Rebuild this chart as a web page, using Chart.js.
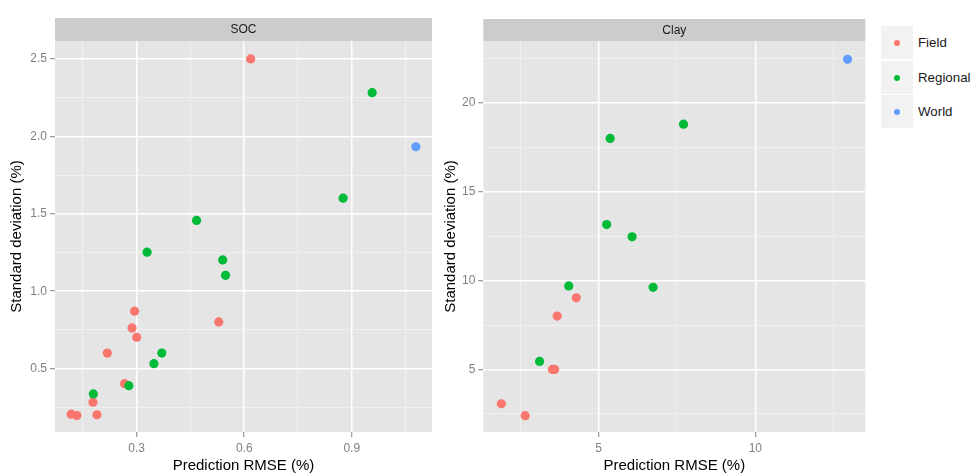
<!DOCTYPE html>
<html>
<head>
<meta charset="utf-8">
<script src="https://cdn.jsdelivr.net/npm/chart.js@4/dist/chart.umd.min.js"></script>
<style>
  html, body { margin: 0; padding: 0; background: #ffffff; }
  #wrap { position: relative; width: 973px; height: 475px; overflow: hidden;
          font-family: "Liberation Sans", Arial, sans-serif; }
  #socCanvas  { position: absolute; left: 0;     top: 0; }
  #clayCanvas { position: absolute; left: 430px; top: 0; }
  #legend { position: absolute; left: 881px; top: 26px; }
  .row { position: relative; height: 33px; margin-bottom: 1.5px; }
  .key { position: absolute; left: 0; top: 0; width: 32px; height: 33px; background: #F2F2F2; }
  .dot { position: absolute; left: 13px; top: 14px; width: 6px; height: 6px; border-radius: 50%; }
  .lab { position: absolute; left: 37px; top: 0; line-height: 33px; font-size: 13.3px; color: #1A1A1A; white-space: nowrap; }
</style>
</head>
<body>
<div id="wrap">
  <canvas id="socCanvas" width="440" height="475"></canvas>
  <canvas id="clayCanvas" width="440" height="475"></canvas>
  <div id="legend"></div>
</div>
<script>
// ---- groups ----
const groupNames  = ['Field', 'Regional', 'World'];
const groupColors = ['#F8766D', '#00BA38', '#619CFF'];

// ---- SOC panel: prediction RMSE (%) vs standard deviation (%) ----
const socFieldRmse    = [0.618, 0.294, 0.287, 0.300, 0.529, 0.218, 0.266, 0.178, 0.117, 0.133, 0.189];
const socFieldSd      = [2.500, 0.871, 0.763, 0.703, 0.802, 0.601, 0.403, 0.283, 0.206, 0.197, 0.202];
const socRegionalRmse = [0.957, 0.876, 0.467, 0.329, 0.540, 0.548, 0.370, 0.348, 0.278, 0.179];
const socRegionalSd   = [2.282, 1.601, 1.457, 1.252, 1.202, 1.103, 0.601, 0.532, 0.390, 0.337];
const socWorldRmse    = [1.079];
const socWorldSd      = [1.933];

// ---- Clay panel ----
const clayFieldRmse    = [4.29, 3.68, 3.53, 3.60, 1.90, 2.66];
const clayFieldSd      = [9.03, 8.00, 5.00, 5.00, 3.07, 2.40];
const clayRegionalRmse = [7.71, 5.37, 5.26, 6.07, 4.05, 6.74, 3.12];
const clayRegionalSd   = [18.80, 18.00, 13.15, 12.46, 9.70, 9.62, 5.45];
const clayWorldRmse    = [12.94];
const clayWorldSd      = [22.45];

// ---- ticks ----
const socXTicks        = [0.3, 0.6, 0.9];
const socXTickLabels   = ['0.3', '0.6', '0.9'];
const socXMinor        = [0.15, 0.45, 0.75, 1.05];
const socYTicks        = [0.5, 1.0, 1.5, 2.0, 2.5];
const socYTickLabels   = ['0.5', '1.0', '1.5', '2.0', '2.5'];
const socYMinor        = [0.25, 0.75, 1.25, 1.75, 2.25];

const clayXTicks       = [5, 10];
const clayXTickLabels  = ['5', '10'];
const clayXMinor       = [2.5, 7.5, 12.5];
const clayYTicks       = [5, 10, 15, 20];
const clayYTickLabels  = ['5', '10', '15', '20'];
const clayYMinor       = [2.5, 7.5, 12.5, 17.5, 22.5];

const xTitle = 'Prediction RMSE (%)';
const yTitle = 'Standard deviation (%)';
const FONT = '"Liberation Sans", Arial, sans-serif';

function toPoints(xs, ys) {
  return xs.map((x, i) => ({ x: x, y: ys[i] }));
}

// grey panel background plus facet strip above the plotting area
const panelPlugin = {
  id: 'panel',
  beforeDraw(chart, args, opts) {
    const ctx = chart.ctx, a = chart.chartArea;
    ctx.save();
    ctx.fillStyle = '#E5E5E5';
    ctx.fillRect(a.left, a.top, a.right - a.left, a.bottom - a.top);
    ctx.fillStyle = '#CCCCCC';
    ctx.fillRect(a.left, opts.stripTop, a.right - a.left, a.top - opts.stripTop);
    ctx.fillStyle = '#1A1A1A';
    ctx.font = '12px ' + FONT;
    ctx.textAlign = 'center';
    ctx.textBaseline = 'middle';
    ctx.fillText(opts.label, (a.left + a.right) / 2, (opts.stripTop + a.top) / 2 + 0.5);
    ctx.restore();
  }
};

function axis(cfg) {
  const { min, max, major, labels, minor, isX, fitSize, title, titlePad, tickPad } = cfg;
  return {
    type: 'linear',
    position: isX ? 'bottom' : 'left',
    min: min,
    max: max,
    afterBuildTicks(scale) {
      const t = major.map((v, i) => ({ value: v, label: labels[i], minor: false }))
        .concat(minor.map(v => ({ value: v, minor: true })));
      t.sort((p, q) => p.value - q.value);
      scale.ticks = t;
    },
    afterFit(scale) {
      if (isX) scale.height = fitSize; else scale.width = fitSize;
    },
    border: { display: false },
    grid: {
      color: c => (c.tick && c.tick.minor) ? '#F2F2F2' : '#FFFFFF',
      lineWidth: c => (c.tick && c.tick.minor) ? 0.8 : 1.5,
      tickColor: c => (c.tick && c.tick.minor) ? 'rgba(0,0,0,0)' : '#7F7F7F',
      tickWidth: 1,
      tickLength: 5,
      drawTicks: true
    },
    ticks: {
      autoSkip: false,
      maxRotation: 0,
      minRotation: 0,
      padding: tickPad,
      color: '#7F7F7F',
      font: { family: FONT, size: 12 },
      callback(value, index, ticks) {
        const t = ticks[index];
        return t.minor ? '' : t.label;
      }
    },
    title: {
      display: true,
      text: title,
      color: '#000000',
      font: { family: FONT, size: 15 },
      padding: titlePad
    }
  };
}

function makePanel(canvasId, label, stripTop, series, xs, ys, padRight) {
  const datasets = series.map((s, i) => ({
    label: groupNames[i],
    data: s,
    backgroundColor: groupColors[i],
    borderWidth: 0,
    pointRadius: 4.6,
    pointHoverRadius: 4.6,
    order: [1, 0, 2][i]
  }));
  return new Chart(document.getElementById(canvasId), {
    type: 'scatter',
    data: { datasets: datasets },
    options: {
      responsive: false,
      animation: false,
      events: [],
      layout: { padding: { top: 41, right: padRight, bottom: 0, left: 0 } },
      plugins: {
        legend: { display: false },
        tooltip: { enabled: false },
        panel: { label: label, stripTop: stripTop }
      },
      scales: { x: xs, y: ys }
    },
    plugins: [panelPlugin]
  });
}

makePanel('socCanvas', 'SOC', 18,
  [toPoints(socFieldRmse, socFieldSd), toPoints(socRegionalRmse, socRegionalSd), toPoints(socWorldRmse, socWorldSd)],
  axis({ min: 0.072, max: 1.124, major: socXTicks, labels: socXTickLabels, minor: socXMinor,
         isX: true, fitSize: 43, title: xTitle, titlePad: { top: 0, bottom: 0 }, tickPad: 4 }),
  axis({ min: 0.091, max: 2.616, major: socYTicks, labels: socYTickLabels, minor: socYMinor,
         isX: false, fitSize: 55, title: yTitle, titlePad: { top: 8, bottom: 0 }, tickPad: 3 }),
  8);

makePanel('clayCanvas', 'Clay', 19,
  [toPoints(clayFieldRmse, clayFieldSd), toPoints(clayRegionalRmse, clayRegionalSd), toPoints(clayWorldRmse, clayWorldSd)],
  axis({ min: 1.325, max: 13.51, major: clayXTicks, labels: clayXTickLabels, minor: clayXMinor,
         isX: true, fitSize: 43, title: xTitle, titlePad: { top: 0, bottom: 0 }, tickPad: 4 }),
  axis({ min: 1.48, max: 23.48, major: clayYTicks, labels: clayYTickLabels, minor: clayYMinor,
         isX: false, fitSize: 53.3, title: yTitle, titlePad: { top: 12, bottom: 0 }, tickPad: 3 }),
  4);

// legend
const legend = document.getElementById('legend');
groupNames.forEach((name, i) => {
  const row = document.createElement('div');
  row.className = 'row';
  const key = document.createElement('div');
  key.className = 'key';
  const dot = document.createElement('span');
  dot.className = 'dot';
  dot.style.background = groupColors[i];
  key.appendChild(dot);
  const lab = document.createElement('div');
  lab.className = 'lab';
  lab.textContent = name;
  row.appendChild(key);
  row.appendChild(lab);
  legend.appendChild(row);
});
</script>
</body>
</html>
